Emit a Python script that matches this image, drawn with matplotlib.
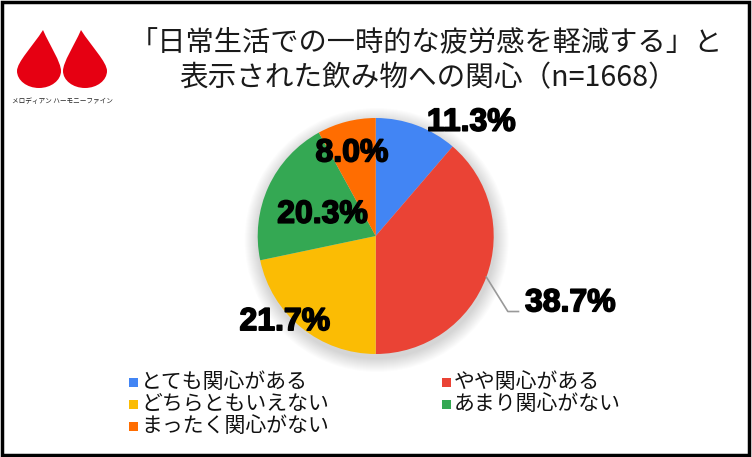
import numpy as np
import matplotlib
matplotlib.use('Agg')
import matplotlib.pyplot as plt
import matplotlib.patheffects as pe
from matplotlib.path import Path
from matplotlib.patches import PathPatch, Circle, Rectangle

plt.rcParams['font.family'] = ['Noto Sans CJK JP', 'DejaVu Sans']

# data
categories = ['とても関心がある', 'やや関心がある', 'どちらともいえない', 'あまり関心がない', 'まったく関心がない']
shares = [11.3, 38.7, 21.7, 20.3, 8.0]
colors = ['#4285F4', '#EA4335', '#FBBC04', '#34A853', '#FF6D01']
title_lines = ['「日常生活での一時的な疲労感を軽減する」と', '表示された飲み物への関心（n=1668）']
brand = 'メロディアン ハーモニーファイン'

W, H = 752, 457
fig = plt.figure(figsize=(W / 100, H / 100), dpi=100)
ax = fig.add_axes([0, 0, 1, 1])


def py(y):
    # pixel row (from top) -> data y
    return H - y


# pie geometry (pixels)
cx, cy, R = 375.7, py(236), 118

# soft shadow under the pie
for k in range(14, 0, -1):
    ax.add_patch(Circle((cx + 1, cy - 4), R + k, color='#000000', alpha=0.013, lw=0, zorder=1))

wedges, _ = ax.pie(shares, colors=colors, startangle=90, counterclock=False,
                   center=(cx, cy), radius=R, wedgeprops=dict(linewidth=0))
for w in wedges:
    w.set_zorder(2)

# percentage labels (offsets in units of the radius)
label_pos = [(0.81, 0.96), (1.65, -0.57), (-0.77, -0.73), (-0.45, 0.18), (-0.20, 0.70)]
for val, (lx, ly) in zip(shares, label_pos):
    ax.text(cx + lx * R, cy + ly * R, f'{val:.1f}%', ha='center', va='center',
            fontsize=23, fontweight='bold', family='Liberation Sans', color='black', zorder=4,
            path_effects=[pe.withStroke(linewidth=1.2, foreground='black')])

# leader line for the largest slice
w = wedges[1]
mid = np.deg2rad((w.theta1 + w.theta2) / 2)
p0 = (cx + R * np.cos(mid), cy + R * np.sin(mid))
ax.plot([p0[0], cx + 1.12 * R, cx + 1.21 * R], [p0[1], cy - 0.64 * R, cy - 0.64 * R],
        color='#999999', lw=1.2, zorder=3)

# title
ax.text(426, py(43), title_lines[0], ha='center', va='center', fontsize=20.3, color='#1a1a1a')
ax.text(428, py(78), title_lines[1], ha='center', va='center', fontsize=20.6, color='#1a1a1a')

# legend
leg_x = [129, 442]
leg_y = [382, 404, 426]
for i, (cat, col) in enumerate(zip(categories, colors)):
    col_i, row_i = i % 2, i // 2
    x0, y0 = leg_x[col_i], py(leg_y[row_i])
    ax.add_patch(Rectangle((x0, y0 - 4.5), 9, 9, color=col, lw=0))
    ax.text(x0 + 12, y0, cat, ha='left', va='center', fontsize=15, color='#111111')


# logo: two red drops forming an M
def drop(tip_x, mid_x, half_w, top, widest, bottom):
    lx, rx = mid_x - half_w, mid_x + half_w
    pts = [(tip_x, top),
           (tip_x + 0.4 * (lx - tip_x), top + 0.4 * (widest - top)),
           (lx, widest - 0.22 * (widest - top)),
           (lx, widest),
           (lx, widest + 0.55 * (bottom - widest)),
           (mid_x - 0.55 * half_w, bottom),
           (mid_x, bottom),
           (mid_x + 0.55 * half_w, bottom),
           (rx, widest + 0.55 * (bottom - widest)),
           (rx, widest),
           (rx, widest - 0.22 * (widest - top)),
           (tip_x + 0.4 * (rx - tip_x), top + 0.4 * (widest - top)),
           (tip_x, top)]
    verts = [(x, py(y)) for x, y in pts]
    codes = [Path.MOVETO] + [Path.CURVE4] * 12
    return PathPatch(Path(verts, codes), color='#E60012', lw=0, zorder=2)


ax.add_patch(drop(43, 39, 22, 30, 71, 88))
ax.add_patch(drop(81, 85, 22, 30, 71, 88))
ax.text(62, py(101), brand, ha='center', va='center', fontsize=4.8, color='#222222')

# outer frame
ax.add_patch(Rectangle((1.5, 2.5), W - 5, H - 4, fill=False, ec='black', lw=2.5, zorder=5))

ax.set_xlim(0, W)
ax.set_ylim(0, H)
ax.set_aspect('auto')
ax.axis('off')

fig.savefig('out.png', dpi=100)
